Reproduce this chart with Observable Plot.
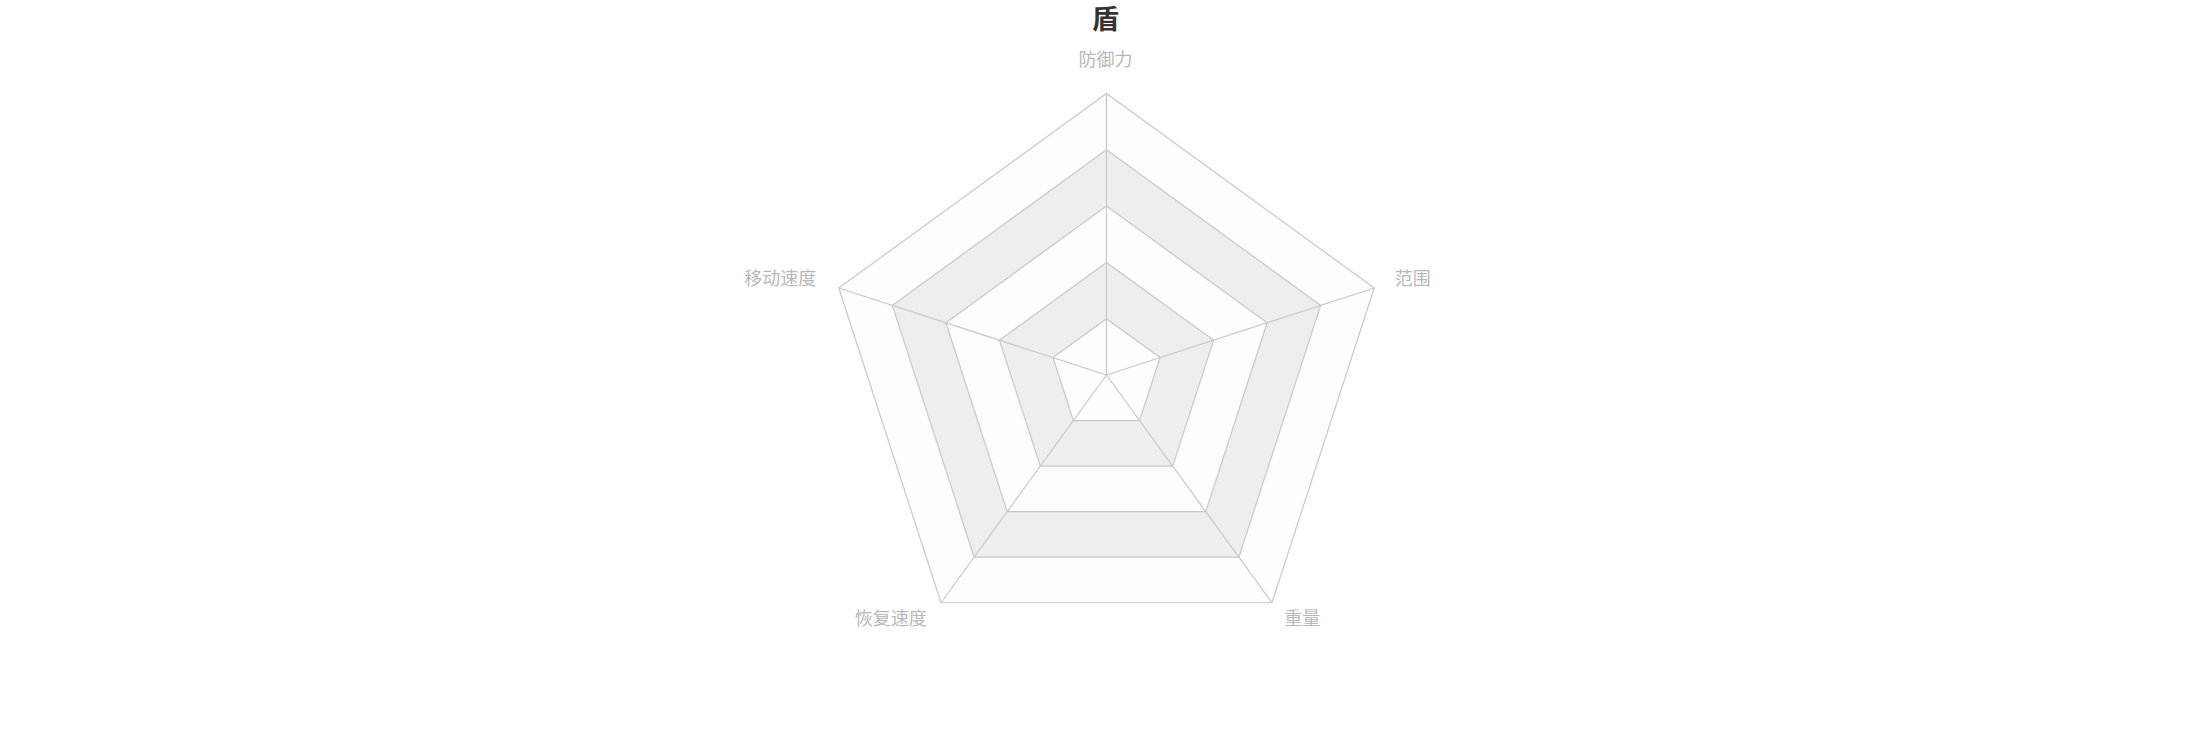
<!DOCTYPE html>
<html>
<head>
<meta charset="utf-8">
<script src="https://cdn.jsdelivr.net/npm/d3@7"></script>
<script src="https://cdn.jsdelivr.net/npm/@observablehq/plot@0.6"></script>
<style>
  html, body { margin: 0; padding: 0; background: #ffffff; }
  #title { height: 38px; line-height: 36px; text-align: center; font-family: "Noto Sans CJK SC", sans-serif; font-weight: bold; font-size: 27px; color: #333333; }
  #chart svg { display: block; }
</style>
</head>
<body>
<div id="title">盾</div>
<div id="chart"></div>
<script>
// Radar indicators (clockwise from top)
const indicators = ["防御力", "范围", "重量", "恢复速度", "移动速度"];
// Split levels (splitNumber = 5)
const splitLevels = [1, 2, 3, 4, 5];
const maxLevel = 5;

const n = indicators.length;
const angleOf = i => Math.PI / 2 - 2 * Math.PI * i / n;

// ring vertices (closed)
const ringPts = splitLevels.flatMap(l =>
  d3.range(n + 1).map(k => {
    const i = k % n, a = angleOf(i), r = l / maxLevel;
    return { level: l, x: r * Math.cos(a), y: r * Math.sin(a) };
  })
);

// spokes
const spokes = indicators.map((name, i) => {
  const a = angleOf(i);
  return { name, x2: Math.cos(a), y2: Math.sin(a) };
});

// labels
const labelR = 1.08;
const labels = indicators.map((name, i) => {
  const a = angleOf(i), c = Math.cos(a), s = Math.sin(a);
  const textAnchor = Math.abs(c) < 0.01 ? "middle" : (c > 0 ? "start" : "end");
  const lineAnchor = s > 0.99 ? "bottom" : "middle";
  return { name, x: labelR * c, y: labelR * s, textAnchor, lineAnchor };
});

const W = 2211, H = 712, R = 281.5, cx = 1106, cy = 336.5;

const ringMarks = [...splitLevels].sort((a, b) => b - a).map(l =>
  Plot.line(ringPts.filter(d => d.level === l), {
    x: "x", y: "y",
    fill: l % 2 === 0 ? "#eeeeee" : "#fdfdfd",
    stroke: "#c8c8c8", strokeWidth: 1.2
  })
);

const combos = Array.from(new Set(labels.map(d => d.textAnchor + "|" + d.lineAnchor)));
const labelMarks = combos.map(cmb => {
  const [ta, la] = cmb.split("|");
  return Plot.text(labels.filter(d => d.textAnchor === ta && d.lineAnchor === la), {
    x: "x", y: "y", text: "name",
    textAnchor: ta, lineAnchor: la,
    dx: -1, dy: la === "bottom" ? -5 : -2,
    fontSize: 18, fill: "#b8b8b8"
  });
});

const chart = Plot.plot({
  width: W, height: H,
  marginTop: 0, marginRight: 0, marginBottom: 0, marginLeft: 0,
  x: { domain: [-1, 1], range: [cx - R, cx + R], axis: null },
  y: { domain: [-1, 1], range: [cy + R, cy - R], axis: null },
  style: { fontFamily: "'Noto Sans CJK SC', sans-serif", background: "#ffffff" },
  marks: [
    ...ringMarks,
    Plot.link(spokes, { x1: d => 0, y1: d => 0, x2: "x2", y2: "y2", stroke: "#c8c8c8", strokeWidth: 1.2 }),
    ...labelMarks
  ]
});
document.getElementById("chart").appendChild(chart);
</script>
</body>
</html>
